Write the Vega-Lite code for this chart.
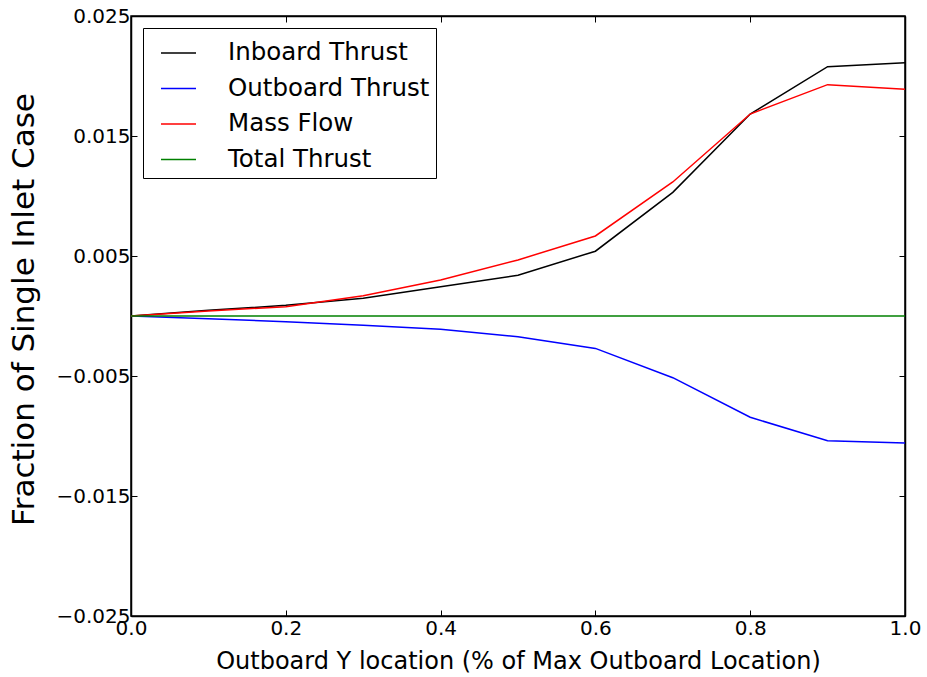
{
  "$schema": "https://vega.github.io/schema/vega-lite/v6.json",
  "width": 774,
  "height": 600,
  "autosize": {"type": "none"},
  "padding": {"left": 131, "top": 16, "right": 22, "bottom": 61},
  "background": "white",
  "config": {
    "font": "DejaVu Sans",
    "view": {"stroke": "black", "strokeWidth": 1.5},
    "axis": {
      "domainColor": "black",
      "domainWidth": 1.5,
      "tickColor": "black",
      "tickWidth": 1,
      "tickSize": -6,
      "grid": false,
      "labelColor": "black",
      "labelFont": "DejaVu Sans",
      "labelFontSize": 20,
      "labelOverlap": false,
      "labelBound": false,
      "labelFlush": false,
      "titleFont": "DejaVu Sans",
      "titleFontWeight": "normal",
      "titleColor": "black"
    }
  },
  "data": {
    "values": [
      {"x": 0.0, "series": "Inboard Thrust", "v": 0.0},
      {"x": 0.1, "series": "Inboard Thrust", "v": 0.00047},
      {"x": 0.2, "series": "Inboard Thrust", "v": 0.00089},
      {"x": 0.3, "series": "Inboard Thrust", "v": 0.00147},
      {"x": 0.4, "series": "Inboard Thrust", "v": 0.00244},
      {"x": 0.5, "series": "Inboard Thrust", "v": 0.0034},
      {"x": 0.6, "series": "Inboard Thrust", "v": 0.0054},
      {"x": 0.7, "series": "Inboard Thrust", "v": 0.0103},
      {"x": 0.8, "series": "Inboard Thrust", "v": 0.01683},
      {"x": 0.9, "series": "Inboard Thrust", "v": 0.02078},
      {"x": 1.0, "series": "Inboard Thrust", "v": 0.0211},
      {"x": 0.0, "series": "Outboard Thrust", "v": 0.0},
      {"x": 0.1, "series": "Outboard Thrust", "v": -0.00022},
      {"x": 0.2, "series": "Outboard Thrust", "v": -0.00047},
      {"x": 0.3, "series": "Outboard Thrust", "v": -0.00078},
      {"x": 0.4, "series": "Outboard Thrust", "v": -0.00111},
      {"x": 0.5, "series": "Outboard Thrust", "v": -0.00172},
      {"x": 0.6, "series": "Outboard Thrust", "v": -0.0027},
      {"x": 0.7, "series": "Outboard Thrust", "v": -0.00514},
      {"x": 0.8, "series": "Outboard Thrust", "v": -0.00844},
      {"x": 0.9, "series": "Outboard Thrust", "v": -0.0104},
      {"x": 1.0, "series": "Outboard Thrust", "v": -0.01058},
      {"x": 0.0, "series": "Mass Flow", "v": 0.0},
      {"x": 0.1, "series": "Mass Flow", "v": 0.00042},
      {"x": 0.2, "series": "Mass Flow", "v": 0.00078},
      {"x": 0.3, "series": "Mass Flow", "v": 0.00169},
      {"x": 0.4, "series": "Mass Flow", "v": 0.003},
      {"x": 0.5, "series": "Mass Flow", "v": 0.00467},
      {"x": 0.6, "series": "Mass Flow", "v": 0.00667},
      {"x": 0.7, "series": "Mass Flow", "v": 0.01117},
      {"x": 0.8, "series": "Mass Flow", "v": 0.01683},
      {"x": 0.9, "series": "Mass Flow", "v": 0.01928},
      {"x": 1.0, "series": "Mass Flow", "v": 0.0189},
      {"x": 0.0, "series": "Total Thrust", "v": 0.0},
      {"x": 0.1, "series": "Total Thrust", "v": 0.0},
      {"x": 0.2, "series": "Total Thrust", "v": 0.0},
      {"x": 0.3, "series": "Total Thrust", "v": 0.0},
      {"x": 0.4, "series": "Total Thrust", "v": 0.0},
      {"x": 0.5, "series": "Total Thrust", "v": 0.0},
      {"x": 0.6, "series": "Total Thrust", "v": 0.0},
      {"x": 0.7, "series": "Total Thrust", "v": 0.0},
      {"x": 0.8, "series": "Total Thrust", "v": 0.0},
      {"x": 0.9, "series": "Total Thrust", "v": 0.0},
      {"x": 1.0, "series": "Total Thrust", "v": 0.0}
    ]
  },
  "layer": [
    {
      "mark": {"type": "line", "strokeWidth": 1.5, "clip": true},
      "encoding": {
        "x": {
          "field": "x",
          "type": "quantitative",
          "scale": {"domain": [0, 1], "nice": false, "zero": false},
          "axis": {
            "orient": "bottom",
            "values": [0, 0.2, 0.4, 0.6, 0.8, 1.0],
            "format": ".1f",
            "labelPadding": 8,
            "title": "Outboard Y location (% of Max Outboard Location)",
            "titleFontSize": 24,
            "titlePadding": 11
          }
        },
        "y": {
          "field": "v",
          "type": "quantitative",
          "scale": {"domain": [-0.025, 0.025], "nice": false, "zero": false},
          "axis": {
            "orient": "left",
            "values": [-0.025, -0.015, -0.005, 0.005, 0.015, 0.025],
            "format": ".3f",
            "labelPadding": 7,
            "title": "Fraction of Single Inlet Case",
            "titleFontSize": 31,
            "titlePadding": 15,
            "titleY": 293
          }
        },
        "color": {
          "field": "series",
          "type": "nominal",
          "sort": ["Inboard Thrust", "Outboard Thrust", "Mass Flow", "Total Thrust"],
          "scale": {
            "domain": ["Inboard Thrust", "Outboard Thrust", "Mass Flow", "Total Thrust"],
            "range": ["#000000", "#0000ff", "#ff0000", "#008000"]
          },
          "legend": {
            "orient": "none",
            "legendX": 12,
            "legendY": 12,
            "title": null,
            "strokeColor": "black",
            "fillColor": "white",
            "padding": 6.5,
            "symbolType": "stroke",
            "symbolSize": 1225,
            "symbolStrokeWidth": 1.5,
            "symbolOffset": 10.5,
            "labelOffset": 31,
            "labelFontSize": 24.5,
            "labelLimit": 400,
            "labelFont": "DejaVu Sans",
            "labelColor": "black",
            "rowPadding": 5.5,
            "cornerRadius": 0
          }
        }
      }
    },
    {
      "mark": {"type": "line", "opacity": 0},
      "encoding": {
        "x": {
          "field": "x",
          "type": "quantitative",
          "axis": {"orient": "top", "values": [0, 0.2, 0.4, 0.6, 0.8, 1.0], "labels": false, "title": null}
        },
        "y": {
          "field": "v",
          "type": "quantitative",
          "axis": {"orient": "right", "values": [-0.025, -0.015, -0.005, 0.005, 0.015, 0.025], "labels": false, "title": null}
        },
        "color": {"field": "series", "type": "nominal"}
      }
    }
  ],
  "resolve": {"axis": {"x": "independent", "y": "independent"}}
}
